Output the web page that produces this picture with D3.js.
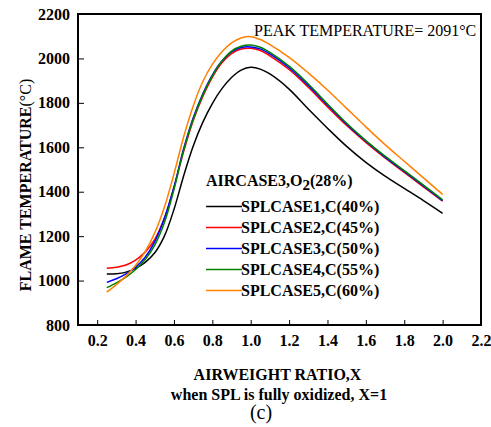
<!DOCTYPE html>
<html><head><meta charset="utf-8">
<script src="https://cdn.jsdelivr.net/npm/d3@7/dist/d3.min.js"></script>
<style>
body{margin:0;background:#fff;}
text{font-family:"Liberation Serif","Times New Roman",serif;}
</style></head>
<body><svg id="c" width="491" height="427"></svg>
<script>
const xValues = [0.25,0.3,0.35,0.4,0.45,0.5,0.55,0.6,0.65,0.7,0.75,0.8,0.85,0.9,0.95,1.0,1.05,1.1,1.2,1.3,1.4,1.5,1.6,1.7,1.8,1.9,2.0];
const case1 = [1030,1031,1038,1055,1082,1125,1200,1320,1470,1605,1712,1797,1864,1914,1947,1960,1952,1930,1862,1772,1686,1604,1532,1470,1415,1360,1303];
const case2 = [1055,1060,1070,1092,1128,1185,1280,1420,1580,1720,1828,1915,1980,2022,2042,2046,2036,2012,1950,1870,1782,1698,1622,1552,1487,1422,1358];
const case3 = [992,1008,1030,1060,1105,1175,1280,1420,1592,1732,1840,1925,1988,2030,2049,2052,2043,2020,1958,1878,1790,1704,1627,1556,1491,1426,1360];
const case4 = [968,990,1016,1050,1095,1160,1260,1410,1585,1725,1835,1922,1988,2033,2055,2060,2050,2027,1965,1885,1795,1708,1630,1560,1495,1430,1363];
const case5 = [948,982,1020,1068,1130,1215,1330,1480,1645,1785,1895,1973,2030,2070,2092,2098,2085,2062,2005,1935,1858,1775,1692,1612,1537,1462,1388];
const seriesNames = ["SPLCASE1,C(40%)","SPLCASE2,C(45%)","SPLCASE3,C(50%)","SPLCASE4,C(55%)","SPLCASE5,C(60%)"];
const seriesColors = ["#000000","#ff0000","#0000ff","#008000","#ff8000"];
const xTicks = [0.2,0.4,0.6,0.8,1.0,1.2,1.4,1.6,1.8,2.0,2.2];
const yTicks = [800,1000,1200,1400,1600,1800,2000,2200];
const allSeries = [case1,case2,case3,case4,case5];

const svg = d3.select("#c");
const L=78, R=481, T=14, B=325;
const x = d3.scaleLinear().domain([0.1,2.2]).range([L,R]);
const y = d3.scaleLinear().domain([800,2200]).range([B,T]);

// axes
const xa = svg.append("g").attr("transform",`translate(0,${B})`)
  .call(d3.axisBottom(x).tickValues(xTicks).tickSize(-5).tickPadding(10).tickFormat(d3.format(".1f")));
const ya = svg.append("g").attr("transform",`translate(${L},0)`)
  .call(d3.axisLeft(y).tickValues(yTicks).tickSize(-6).tickPadding(8).tickFormat(d3.format("d")));
[xa,ya].forEach(a=>{
  a.select(".domain").remove();
  a.selectAll(".tick line").attr("stroke","#000").attr("stroke-width",1);
  a.selectAll("text").attr("fill","#000").style("font-size","16px").style("font-weight","bold")
   .style("font-family","'Liberation Serif','Times New Roman',serif");
});
ya.selectAll(".tick").filter(d=>d===800||d===2200).select("line").remove();
xa.selectAll(".tick").filter(d=>d===2.2).select("line").remove();

// frame
svg.append("rect").attr("x",L).attr("y",T).attr("width",R-L).attr("height",B-T)
  .attr("fill","none").attr("stroke","#000").attr("stroke-width",2);

// lines
const line = d3.line().x((d,i)=>x(xValues[i])).y(d=>y(d)).curve(d3.curveCatmullRom.alpha(0.5));
allSeries.forEach((s,i)=>{
  svg.append("path").datum(s).attr("d",line).attr("fill","none")
    .attr("stroke",seriesColors[i]).attr("stroke-width",1.5);
});

// legend
const lg = svg.append("g");
const tt = lg.append("text").attr("x",206).attr("y",186).style("font-size","16px").style("font-weight","bold");
tt.append("tspan").text("AIRCASE3,O");
tt.append("tspan").attr("dy",4).style("font-size","15px").text("2");
tt.append("tspan").attr("dy",-4).text("(28%)");
const rowY = [206.5,227.5,248.5,269.5,290.5];
seriesNames.forEach((n,i)=>{
  lg.append("line").attr("x1",206).attr("x2",242).attr("y1",rowY[i]).attr("y2",rowY[i])
    .attr("stroke",seriesColors[i]).attr("stroke-width",1.5);
  lg.append("text").attr("x",241).attr("y",rowY[i]+5.5).style("font-size","16px").style("font-weight","bold").text(n);
});

// annotation
svg.append("text").attr("x",254).attr("y",36).style("font-size","16px").text("PEAK TEMPERATURE= 2091°C");

// axis titles
svg.append("text").attr("x",277.5).attr("y",380).attr("text-anchor","middle")
  .style("font-size","16px").style("font-weight","bold").text("AIRWEIGHT RATIO,X");
svg.append("text").attr("x",279).attr("y",400).attr("text-anchor","middle")
  .style("font-size","16px").style("font-weight","bold").text("when SPL is fully oxidized, X=1");
svg.append("text").attr("x",261).attr("y",419).attr("text-anchor","middle")
  .style("font-size","20px").text("(c)");
const yt = svg.append("text").attr("transform","translate(31,185) rotate(-90)").attr("text-anchor","middle")
  .style("font-size","16px").style("font-weight","bold");
yt.append("tspan").text("FLAME TEMPERATURE");
yt.append("tspan").style("font-weight","normal").text("(°C)");
</script></body></html>
